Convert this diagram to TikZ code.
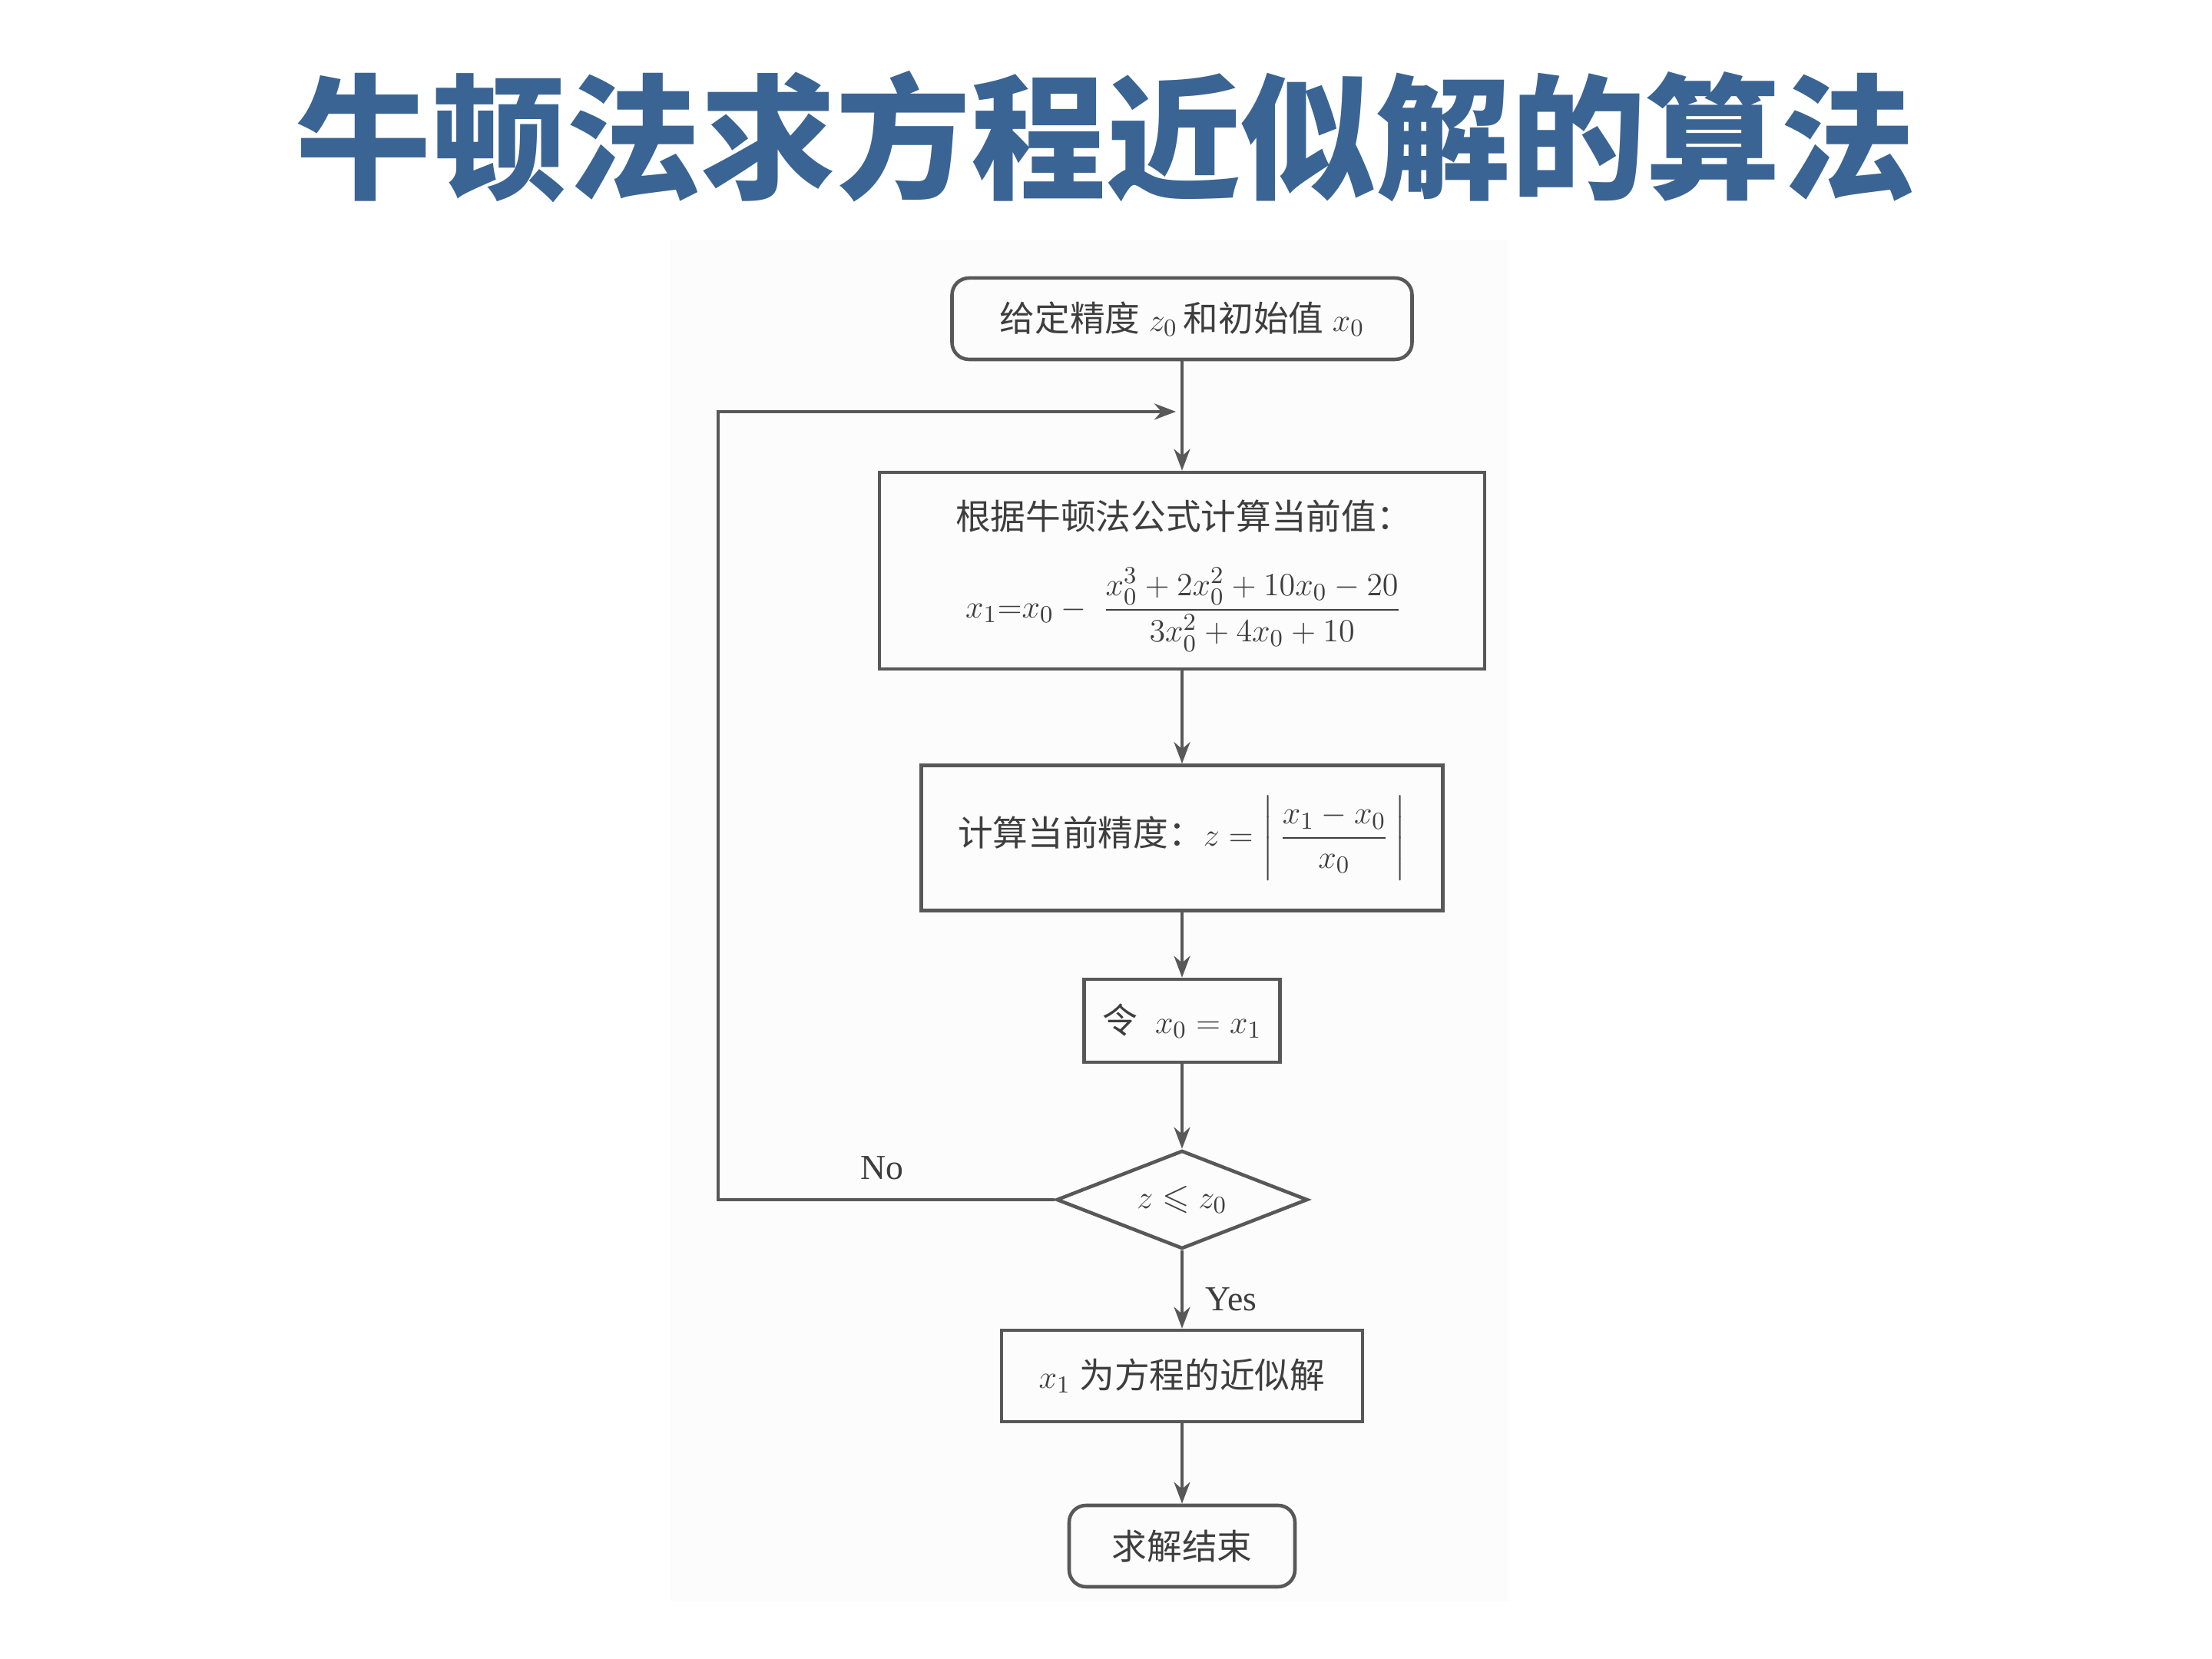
\documentclass[tikz,border=0pt]{standalone}
\usepackage{amsmath,amssymb}
\usepackage{fontspec}
\setmainfont{Liberation Serif}
\newfontfamily\cjk{Noto Sans CJK SC}
\usetikzlibrary{shapes.geometric,arrows.meta}
\definecolor{titleblue}{RGB}{58,100,148}
\definecolor{ln}{RGB}{88,88,88}
\definecolor{tx}{RGB}{62,62,62}
\begin{document}
\begin{tikzpicture}[x=1cm,y=1cm,
  box/.style={draw=ln, line width=1.3pt, text=tx, font=\fontsize{13}{16}\selectfont, inner sep=0pt, align=center},
  rbox/.style={box, rounded corners=0.22cm},
  dec/.style={box, shape=diamond, shape aspect=2.55},
  arr/.style={draw=ln, line width=1pt, -{Stealth[length=8pt,width=6pt]}},
  lbl/.style={text=tx, font=\fontsize{13}{16}\selectfont, inner sep=1pt}]
\useasboundingbox (0,0) rectangle (28.8,21.6);
\fill[gray!2.5] (8.72,0.75) rectangle (19.65,18.48);

\node[font=\fontsize{50}{60}\selectfont\cjk\bfseries, text=titleblue] (title) at (14.40,19.82) {牛顿法求方程近似解的算法};

\node[rbox, minimum width=5.99cm, minimum height=1.06cm] (n1) at (15.39,17.45)
  {{\cjk 给定精度}~$z_0$\,{\cjk 和初始值}~$x_0$};
\node[box, minimum width=7.88cm, minimum height=2.56cm] (n2) at (15.39,14.17) {};
\node[lbl] (n2a) at (15.41,14.88) {{\cjk 根据牛顿法公式计算当前值：}};
\node[lbl] (n2b) at (15.41,13.66)
  {$x_1{=}x_0-\;\dfrac{x_0^3+2x_0^2+10x_0-20}{3x_0^2+4x_0+10}$};
\node[box, minimum width=6.79cm, minimum height=1.89cm] (n3) at (15.39,10.69)
  {{\cjk 计算当前精度：}$z=\left|\,\dfrac{x_1-x_0}{x_0}\,\right|$};
\node[box, minimum width=2.55cm, minimum height=1.08cm] (n4) at (15.39,8.31)
  {{\cjk 令}~~$x_0=x_1$};
\node[dec, minimum width=3.27cm, minimum height=1.28cm] (d) at (15.39,5.98)
  {$z\leqslant z_0$};
\node[box, minimum width=4.70cm, minimum height=1.19cm] (n6) at (15.39,3.685)
  {$x_1$~{\cjk 为方程的近似解}};
\node[rbox, minimum width=2.94cm, minimum height=1.06cm] (n7) at (15.39,1.47)
  {{\cjk 求解结束}};

\node[lbl] (no) at (11.48,6.39) {No};
\node[lbl] (yes) at (16.03,4.68) {Yes};

\coordinate (lb) at (9.35,5.98);
\coordinate (lt) at (9.35,16.24);
\coordinate (le) at (15.31,16.24);

\draw[arr] (n1) -- (n2);
\draw[arr] (n2) -- (n3);
\draw[arr] (n3) -- (n4);
\draw[arr] (n4) -- (d);
\draw[arr] (d) -- (n6);
\draw[arr] (n6) -- (n7);
\draw[arr] (d.west) -- (lb) -- (lt) -- (le);
\end{tikzpicture}
\end{document}
